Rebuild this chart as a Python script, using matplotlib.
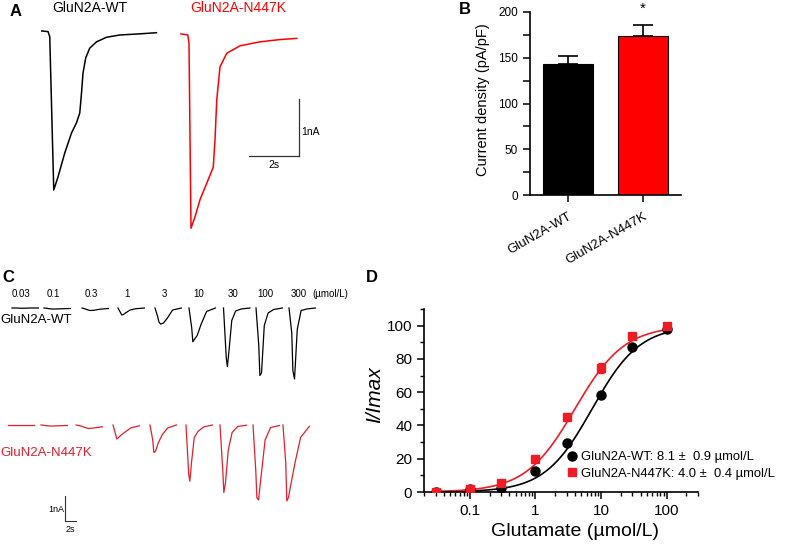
import matplotlib
matplotlib.use('Agg')
import numpy as np
import matplotlib.pyplot as plt
from matplotlib.ticker import MultipleLocator, LogLocator, NullFormatter

plt.rcParams['font.family'] = ['Liberation Sans', 'DejaVu Sans']

# ---- data ----
# A: example whole-cell currents (time s, current nA)
a_wt_t = [0.0, 0.25, 0.32, 0.48, 0.65, 0.92, 1.19, 1.39, 1.52, 1.59, 1.65, 1.76, 1.92, 2.19, 2.59, 3.12, 3.92, 4.59]
a_wt_i = [0.0, -0.01, -0.10, -2.79, -2.56, -2.14, -1.79, -1.61, -1.44, -1.09, -0.74, -0.47, -0.30, -0.19, -0.11, -0.07, -0.05, -0.03]
a_mut_t = [0.0, 0.27, 0.32, 0.40, 0.56, 0.76, 1.03, 1.29, 1.36, 1.43, 1.56, 1.83, 2.36, 3.16, 3.96, 4.63]
a_mut_i = [-0.05, -0.07, -0.21, -3.46, -3.26, -2.96, -2.67, -2.39, -1.91, -1.21, -0.63, -0.39, -0.26, -0.19, -0.15, -0.13]

# B: current density
groups = ['GluN2A-WT', 'GluN2A-N447K']
density = [143, 174]
density_sem = [9, 12]

# C: concentration series, current (nA) sampled at c_time (s)
conc_labels = ['0.03', '0.1', '0.3', '1', '3', '10', '30', '100', '300']
c_time = [0, 0.5, 0.7, 1.0, 1.5, 2.2, 3.2, 4.8]
c_wt = [
    [0, 0, 0, 0, -0.01, -0.01, 0, 0],
    [0, -0.01, -0.02, -0.03, -0.04, -0.04, -0.03, -0.02],
    [0, -0.03, -0.05, -0.07, -0.10, -0.09, -0.05, -0.02],
    [0, -0.20, -0.28, -0.26, -0.18, -0.08, -0.03, 0],
    [0, -0.35, -0.55, -0.64, -0.61, -0.42, -0.08, 0],
    [0, -0.80, -1.35, -1.25, -1.10, -0.65, -0.14, 0],
    [0, -2.00, -2.35, -1.70, -0.50, -0.12, -0.04, 0],
    [0, -1.50, -2.70, -2.60, -0.70, -0.20, -0.06, 0],
    [0, -1.00, -2.50, -2.84, -0.85, -0.10, -0.04, 0],
]
c_mut = [
    [0, 0, 0, 0, 0, 0, 0, 0],
    [0, -0.01, -0.02, -0.03, -0.04, -0.04, -0.03, -0.02],
    [0, -0.02, -0.03, -0.05, -0.09, -0.14, -0.12, -0.07],
    [0, -0.40, -0.56, -0.50, -0.40, -0.28, -0.12, -0.03],
    [0, -0.60, -1.10, -1.05, -0.72, -0.40, -0.12, 0],
    [0, -2.00, -2.25, -1.50, -0.50, -0.25, -0.08, 0],
    [0, -1.80, -2.70, -2.30, -1.00, -0.30, -0.06, -0.01],
    [0, -1.80, -2.90, -3.00, -2.00, -0.60, -0.10, -0.02],
    [0, -1.50, -3.04, -2.90, -2.30, -1.50, -0.50, -0.05],
]

# D: concentration-response
glu = [0.03, 0.1, 0.3, 1, 3, 10, 30, 100]
d_wt = [0.0, 1.8, 2.4, 12.6, 29.3, 58.4, 87.1, 98.0]
d_wt_err = [0.3, 0.4, 0.5, 1.0, 1.2, 2.0, 1.0, 0.5]
d_mut = [0.0, 1.8, 5.2, 19.9, 45.0, 74.5, 93.6, 99.6]
d_mut_err = [0.3, 0.5, 0.8, 2.0, 1.2, 3.0, 1.0, 0.5]
ec50 = [8.1, 4.0]
ec50_sem = [0.9, 0.4]
fit_ec50 = [7.3, 4.0]
fit_hill = [1.2, 1.15]

# ---- layout helpers ----
W, H = 787, 544
fig = plt.figure(figsize=(W / 100, H / 100), dpi=100)


def px_axes(l, t, r, b):
    return fig.add_axes([l / W, 1 - b / H, (r - l) / W, (b - t) / H])


def ftext(x, y, s, **kw):
    fig.text(x / W, 1 - y / H, s, **kw)


black = 'black'
red_a = '#ff0000'
red_c = '#e0202c'
red_d = '#ee1c24'

# ---- panel A ----
axA = px_axes(30, 20, 330, 240)
axA.axis('off')
axA.set_xlim(0, 12)
axA.set_ylim(-(240 - 31) / 57, (31 - 20) / 57)
axA.plot(np.array(a_wt_t) + 0.47, a_wt_i, color=black, lw=1.1)
axA.plot(np.array(a_mut_t) + 6.04, a_mut_i, color=red_a, lw=1.1)
# scale bar 1 nA / 2 s
sx, sy = 10.76, -2.19
axA.plot([sx, sx], [sy, sy + 1], color='#333333', lw=0.9)
axA.plot([sx - 2, sx], [sy, sy], color='#333333', lw=0.9)
axA.text(sx + 0.1, sy + 0.42, '1nA', fontsize=7.5, va='center', ha='left')
axA.text(sx - 1, sy - 0.16, '2s', fontsize=7.5, va='center', ha='center')

ftext(10, 12, 'A', fontsize=12, fontweight='bold', va='center')
ftext(90, 8, 'GluN2A-WT', fontsize=10, ha='center', va='center')
ftext(238, 8, 'GluN2A-N447K', fontsize=10, ha='center', va='center', color=red_a)

# ---- panel B ----
axB = px_axes(530, 12, 681, 195)
xb = np.arange(len(groups))
axB.bar(xb, density, width=0.667, color=[black, red_a], edgecolor=black, linewidth=0.8, zorder=2)
axB.errorbar(xb, density, yerr=[[0, 0], density_sem], fmt='none', ecolor=black,
             elinewidth=1.2, capsize=7, capthick=1.2, zorder=1)
axB.set_xlim(-0.507, 1.507)
axB.set_ylim(0, 200)
axB.yaxis.set_major_locator(MultipleLocator(50))
axB.yaxis.set_minor_locator(MultipleLocator(25))
axB.set_xticks(xb)
axB.set_xticklabels(groups, rotation=30, ha='right', rotation_mode='anchor', fontsize=9.5)
axB.tick_params(axis='y', labelsize=8.5, length=5, width=1.1)
axB.tick_params(axis='y', which='minor', length=5, width=1.1)
axB.tick_params(axis='x', length=5, width=1.1, pad=6)
for s in ['top', 'right']:
    axB.spines[s].set_visible(False)
for s in ['left', 'bottom']:
    axB.spines[s].set_linewidth(1.2)
axB.text(1, density[1] + density_sem[1] + 18, '*', ha='center', va='center', fontsize=11, clip_on=False)
ftext(483, 100, 'Current density (pA/pF)', fontsize=10.5, rotation=90, ha='center', va='center')
ftext(465, 9, 'B', fontsize=12, fontweight='bold', va='center', ha='center')

# ---- panel C ----
axC = px_axes(0, 285, 340, 530)
axC.axis('off')
axC.set_xlim(0, 340 / 5.5)
axC.set_ylim(-(530 - 308) / 25, (308 - 285) / 25)
wt_start = [2.18, 8.0, 14.91, 21.45, 28.18, 34.36, 40.64, 46.55, 52.55]
mut_start = [1.45, 7.45, 13.82, 20.55, 27.27, 33.82, 40.0, 46.0, 51.45]
mut_base = -(425 - 308) / 25
ct = np.array(c_time)
for k in range(len(conc_labels)):
    axC.plot(ct + wt_start[k], c_wt[k], color=black, lw=0.9)
    axC.plot(ct + mut_start[k], np.array(c_mut[k]) + mut_base, color=red_c, lw=0.9)
    axC.text(wt_start[k] + 1.7, 0.56, conc_labels[k], fontsize=7, ha='center', va='center')
axC.text(60, 0.56, '(µmol/L)', fontsize=7, ha='center', va='center')
axC.text(0, -0.48, 'GluN2A-WT', fontsize=9.5, ha='left', va='center')
axC.text(0, mut_base - 1.12, 'GluN2A-N447K', fontsize=9.5, ha='left', va='center', color=red_c)
cx, cy = 65 / 5.5, -(521 - 308) / 25
axC.plot([cx, cx], [cy, cy + 1], color='#333333', lw=0.8)
axC.plot([cx, cx + 2], [cy, cy], color='#333333', lw=0.8)
axC.text(cx - 0.1, cy + 0.45, '1nA', fontsize=6.5, ha='right', va='center')
axC.text(cx + 1, cy - 0.32, '2s', fontsize=6.5, ha='center', va='center')
ftext(8, 277, 'C', fontsize=12, fontweight='bold', va='center', ha='center')

# ---- panel D ----
axD = px_axes(424, 309, 698, 492)
xs = np.logspace(np.log10(0.03), 2, 300)
curve_cols = [black, red_d]
for e, n, c in zip(fit_ec50, fit_hill, curve_cols):
    axD.plot(xs, 100 / (1 + (e / xs) ** n), color=c, lw=1.2)
axD.errorbar(glu, d_wt, yerr=d_wt_err, fmt='o', color=black, ms=6.5, capsize=2.5,
             elinewidth=1, label=f'{groups[0]}: {ec50[0]:.1f} ±  {ec50_sem[0]:.1f} µmol/L', zorder=3)
axD.errorbar(glu, d_mut, yerr=d_mut_err, fmt='s', color=red_d, ms=6, capsize=2.5,
             elinewidth=1, label=f'{groups[1]}: {ec50[1]:.1f} ±  {ec50_sem[1]:.1f} µmol/L', zorder=4)
axD.set_xscale('log')
axD.set_xlim(0.02, 300)
axD.set_ylim(0, 110)
axD.set_xticks([0.1, 1, 10, 100])
axD.set_xticklabels(['0.1', '1', '10', '100'])
axD.xaxis.set_minor_locator(LogLocator(base=10, subs=np.arange(2, 10)))
axD.xaxis.set_minor_formatter(NullFormatter())
axD.set_yticks([0, 20, 40, 60, 80, 100])
axD.yaxis.set_minor_locator(MultipleLocator(10))
axD.tick_params(labelsize=11, length=5, width=1.1)
axD.tick_params(which='minor', length=3, width=1)
for s in ['top', 'right']:
    axD.spines[s].set_visible(False)
for s in ['left', 'bottom']:
    axD.spines[s].set_linewidth(1.2)
h, l = axD.get_legend_handles_labels()
h = [hh[0] for hh in h]
fig.legend(h, l, loc='upper left', bbox_to_anchor=(567 / W, 1 - 451 / H), frameon=False,
           fontsize=9.4, handlelength=0.8, handletextpad=0.3, labelspacing=0.35,
           borderpad=0, borderaxespad=0)
ftext(375, 395, 'I/Imax', fontsize=15, style='italic', rotation=90, ha='center', va='center')
ftext(575, 532, 'Glutamate (µmol/L)', fontsize=14, ha='center', va='center')
ftext(372, 278, 'D', fontsize=12, fontweight='bold', va='center', ha='center')

fig.savefig('out.png', dpi=100)
